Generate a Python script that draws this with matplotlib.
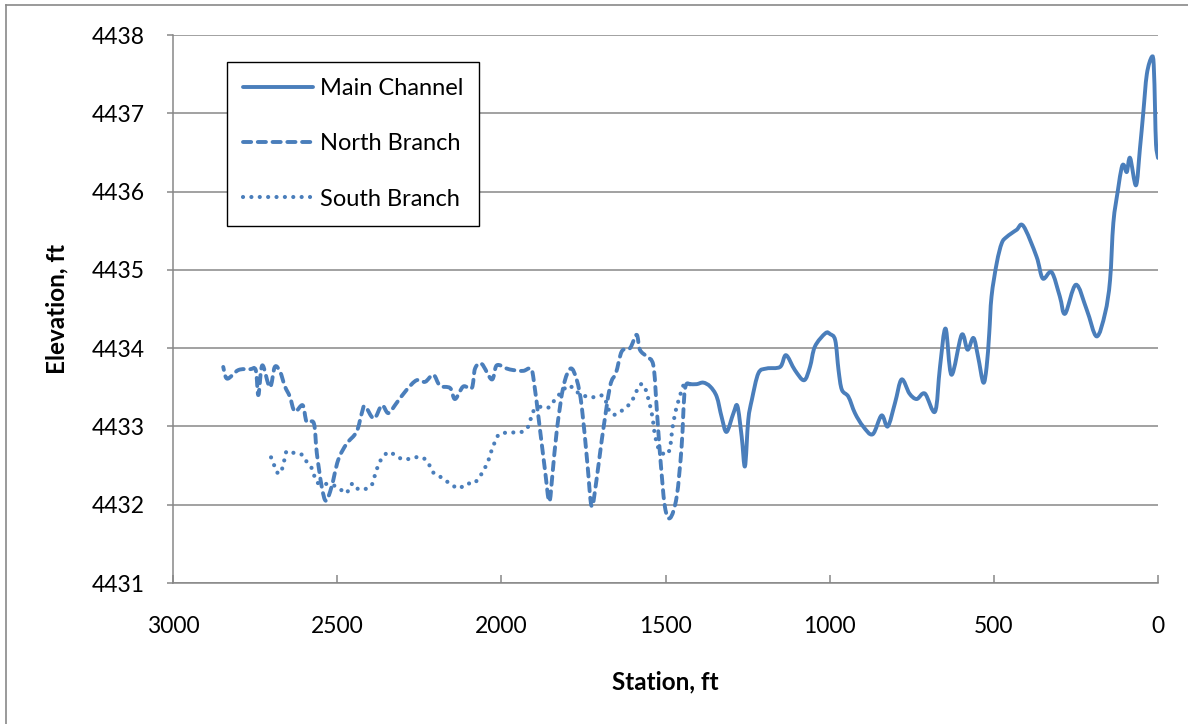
import numpy as np
import matplotlib
matplotlib.use("Agg")
import matplotlib.pyplot as plt
from matplotlib.path import Path
from matplotlib.patches import PathPatch
from matplotlib.lines import Line2D

# ---------------- data ----------------
main_station = [0, 6, 9, 13, 19, 34, 45, 55, 67, 85, 95, 104, 111, 122, 136, 146, 161, 187,
                217, 250, 283, 299, 324, 351, 370, 410, 431, 461, 476, 491, 507, 514, 522,
                532, 548, 562, 580, 598, 629, 647, 664, 679, 710, 735, 757, 781, 801, 823,
                842, 869, 898, 923, 943, 963, 973, 983, 999, 1013, 1045, 1060, 1078, 1106,
                1133, 1151, 1192, 1217, 1237, 1248, 1258, 1268, 1281, 1293, 1314, 1329,
                1344, 1364, 1385, 1405, 1425]
main_elev = [4436.43, 4436.60, 4437.05, 4437.62, 4437.72, 4437.50, 4437.00, 4436.55, 4436.08,
             4436.43, 4436.25, 4436.34, 4436.30, 4436.02, 4435.60, 4434.87, 4434.45, 4434.15,
             4434.49, 4434.81, 4434.44, 4434.66, 4434.97, 4434.89, 4435.17, 4435.56, 4435.51,
             4435.42, 4435.34, 4435.09, 4434.66, 4434.19, 4433.76, 4433.56, 4433.89, 4434.13,
             4433.98, 4434.17, 4433.66, 4434.25, 4433.76, 4433.19, 4433.42, 4433.35, 4433.42,
             4433.60, 4433.30, 4433.00, 4433.14, 4432.90, 4433.00, 4433.17, 4433.38, 4433.47,
             4433.72, 4434.10, 4434.18, 4434.19, 4434.02, 4433.76, 4433.59, 4433.72, 4433.91,
             4433.76, 4433.74, 4433.68, 4433.34, 4433.08, 4432.49, 4432.87, 4433.26, 4433.17,
             4432.93, 4433.12, 4433.38, 4433.51, 4433.56, 4433.54, 4433.54]

north_station = [1425, 1441, 1451, 1466, 1486, 1502, 1517, 1527, 1537, 1557, 1578, 1588, 1608,
                 1633, 1651, 1669, 1694, 1710, 1725, 1738, 1755, 1770, 1789, 1811, 1831, 1844,
                 1854, 1867, 1882, 1903, 1913, 1933, 1964, 1984, 2014, 2029, 2060, 2080, 2090,
                 2116, 2141, 2156, 2187, 2207, 2232, 2258, 2288, 2319, 2344, 2364, 2388, 2415,
                 2425, 2441, 2471, 2497, 2517, 2534, 2547, 2562, 2571, 2593, 2605, 2629, 2644,
                 2659, 2674, 2690, 2705, 2728, 2740, 2748, 2766, 2801, 2835, 2847]
north_elev = [4433.54, 4433.47, 4432.74, 4432.10, 4431.83, 4431.98, 4432.66, 4433.25, 4433.78,
              4433.89, 4433.98, 4434.17, 4434.00, 4433.96, 4433.68, 4433.51, 4432.83, 4432.32,
              4431.98, 4432.53, 4433.25, 4433.59, 4433.74, 4433.51, 4432.95, 4432.40, 4432.04,
              4432.44, 4432.95, 4433.64, 4433.74, 4433.71, 4433.72, 4433.74, 4433.78, 4433.60,
              4433.80, 4433.74, 4433.49, 4433.51, 4433.35, 4433.49, 4433.52, 4433.66, 4433.57,
              4433.59, 4433.47, 4433.30, 4433.17, 4433.27, 4433.10, 4433.26, 4433.17, 4432.93,
              4432.78, 4432.57, 4432.23, 4432.05, 4432.23, 4432.66, 4433.04, 4433.06, 4433.27,
              4433.19, 4433.38, 4433.51, 4433.70, 4433.76, 4433.50, 4433.78, 4433.40, 4433.72,
              4433.73, 4433.72, 4433.61, 4433.76]

south_station = [1446, 1466, 1478, 1486, 1496, 1519, 1532, 1542, 1562, 1578, 1598, 1613, 1654,
                 1674, 1690, 1730, 1770, 1791, 1806, 1837, 1857, 1882, 1903, 1918, 1938, 1984,
                 2009, 2029, 2043, 2067, 2085, 2106, 2128, 2146, 2187, 2207, 2217, 2232, 2253,
                 2299, 2339, 2354, 2370, 2382, 2395, 2415, 2436, 2451, 2461, 2471, 2481, 2512,
                 2542, 2562, 2578, 2593, 2608, 2631, 2654, 2664, 2674, 2686, 2694, 2705]
south_elev = [4433.52, 4433.25, 4433.00, 4432.74, 4432.64, 4432.70, 4432.89, 4433.17, 4433.49,
              4433.53, 4433.36, 4433.27, 4433.15, 4433.22, 4433.39, 4433.37, 4433.44, 4433.52,
              4433.49, 4433.34, 4433.24, 4433.25, 4433.19, 4433.00, 4432.93, 4432.92, 4432.89,
              4432.70, 4432.53, 4432.35, 4432.27, 4432.27, 4432.21, 4432.24, 4432.36, 4432.41,
              4432.49, 4432.58, 4432.61, 4432.58, 4432.67, 4432.64, 4432.55, 4432.42, 4432.25,
              4432.20, 4432.20, 4432.27, 4432.23, 4432.15, 4432.17, 4432.25, 4432.27, 4432.29,
              4432.47, 4432.55, 4432.64, 4432.66, 4432.68, 4432.51, 4432.40, 4432.43, 4432.53,
              4432.64]

series_labels = ["Main Channel", "North Branch", "South Branch"]
x_ticks = [3000, 2500, 2000, 1500, 1000, 500, 0]
y_ticks = [4431, 4432, 4433, 4434, 4435, 4436, 4437, 4438]

# ---------------- style ----------------
plt.rcParams["font.family"] = ["Lato", "DejaVu Sans"]
COLOR = "#4A7EBB"
GRID = "#878787"
W, H = 1188, 724

fig = plt.figure(figsize=(W / 100, H / 100), dpi=100)
ax = fig.add_axes([173 / W, 1 - 583 / H, (1158 - 173) / W, (583 - 35) / H])


def smooth_path(xs, ys):
    """Excel-like smoothed line: cubic Bezier through every data point."""
    P = np.column_stack([xs, ys]).astype(float)
    n = len(P)
    verts = [P[0]]
    codes = [Path.MOVETO]
    for i in range(n - 1):
        p0 = P[i - 1] if i > 0 else P[i]
        p1 = P[i]
        p2 = P[i + 1]
        p3 = P[i + 2] if i + 2 < n else P[i + 1]
        verts += [p1 + (p2 - p0) / 6.0, p2 - (p3 - p1) / 6.0, p2]
        codes += [Path.CURVE4] * 3
    return Path(verts, codes)


LW = 2.8
styles = [
    dict(linestyle="-", lw=LW),
    dict(linestyle=(0, (2.1, 1.7)), lw=LW),
    dict(linestyle=(0, (0.01, 2.0)), lw=3.0),
]
series = [(main_station, main_elev), (north_station, north_elev), (south_station, south_elev)]

handles = []
for (xs, ys), st, lab in zip(series, styles, series_labels):
    patch = PathPatch(smooth_path(xs, ys), facecolor="none", edgecolor=COLOR,
                      linewidth=st["lw"], linestyle=st["linestyle"], capstyle="round",
                      joinstyle="round", zorder=3)
    ax.add_patch(patch)
    h = Line2D([], [], color=COLOR, linewidth=st["lw"], linestyle=st["linestyle"],
               dash_capstyle="round", solid_capstyle="round", label=lab)
    handles.append(h)

ax.set_xlim(3000, 0)
ax.set_ylim(4431, 4438)
ax.set_xticks(x_ticks)
ax.set_yticks(y_ticks)
ax.set_xticklabels([str(v) for v in x_ticks])
ax.set_yticklabels([str(v) for v in y_ticks])

ax.grid(axis="y", color=GRID, linewidth=1.1)
ax.set_axisbelow(True)
for side in ["top", "right"]:
    ax.spines[side].set_visible(False)
for side in ["left", "bottom"]:
    ax.spines[side].set_color(GRID)
    ax.spines[side].set_linewidth(1.1)

ax.tick_params(axis="x", direction="in", length=6, width=1.1, color=GRID,
               labelsize=16.5, pad=24, labelcolor="black")
ax.tick_params(axis="y", direction="out", length=4, width=1.1, color=GRID,
               labelsize=16.5, pad=16, labelcolor="black")

ax.set_xlabel("Station, ft", fontsize=17.5, fontweight="bold", labelpad=24)
ax.set_ylabel("Elevation, ft", fontsize=17.5, fontweight="bold", labelpad=17)

leg = fig.legend(handles=handles, loc="upper left",
                 bbox_to_anchor=(227 / W, 1 - 62 / H), bbox_transform=fig.transFigure,
                 fontsize=17, frameon=True, fancybox=False, shadow=False,
                 handlelength=2.95, handletextpad=0.3, labelspacing=1.45,
                 borderpad=0.68, borderaxespad=0)
leg.get_frame().set_edgecolor("black")
leg.get_frame().set_linewidth(1.0)
leg.get_frame().set_alpha(1)

# outer chart-area border (top and left visible)
fig.add_artist(Line2D([6 / W, 6 / W], [0, 1 - 5 / H], transform=fig.transFigure,
                      color="#898989", linewidth=1.2))
fig.add_artist(Line2D([6 / W, 1], [1 - 5 / H, 1 - 5 / H], transform=fig.transFigure,
                      color="#898989", linewidth=1.2))

fig.savefig("out.png", dpi=100)
